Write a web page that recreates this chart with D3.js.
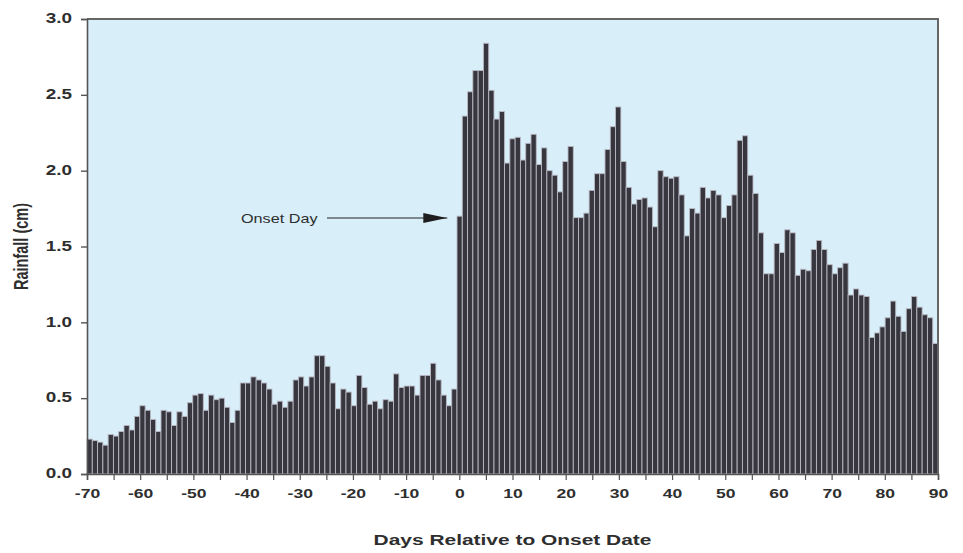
<!DOCTYPE html>
<html>
<head>
<meta charset="utf-8">
<script src="https://cdn.jsdelivr.net/npm/d3@7"></script>
<style>
    body { margin: 0; background: #fff; }
    svg text { font-family: "Liberation Sans", Arial, sans-serif; fill: #2e2e2e; }
</style>
</head>
<body>
<svg id="chart" width="963" height="553"></svg>
<script>
'use strict';

// days -70 .. -1
const preOnset = [
    0.23, 0.22, 0.21, 0.19, 0.26, 0.25, 0.28, 0.32, 0.29, 0.38,
    0.45, 0.42, 0.36, 0.28, 0.42, 0.41, 0.32, 0.41, 0.38, 0.47,
    0.52, 0.53, 0.42, 0.52, 0.49, 0.50, 0.44, 0.34, 0.42, 0.60,
    0.60, 0.64, 0.62, 0.60, 0.56, 0.46, 0.48, 0.44, 0.48, 0.62,
    0.64, 0.58, 0.64, 0.78, 0.78, 0.71, 0.60, 0.43, 0.56, 0.54,
    0.45, 0.65, 0.57, 0.46, 0.48, 0.43, 0.49, 0.48, 0.66, 0.57,
    0.58, 0.58, 0.52, 0.65, 0.65, 0.73, 0.62, 0.52, 0.45, 0.56
];

// days 0 .. 90
const postOnset = [
    1.70, 2.36, 2.52, 2.66, 2.66, 2.84, 2.53, 2.34, 2.39, 2.05,
    2.21, 2.22, 2.07, 2.18, 2.24, 2.04, 2.15, 2.00, 1.97, 1.86,
    2.06, 2.16, 1.69, 1.69, 1.72, 1.87, 1.98, 1.98, 2.14, 2.29,
    2.42, 2.06, 1.89, 1.78, 1.81, 1.82, 1.76, 1.63, 2.00, 1.96,
    1.95, 1.96, 1.84, 1.57, 1.75, 1.72, 1.89, 1.82, 1.87, 1.84,
    1.69, 1.77, 1.84, 2.20, 2.23, 1.97, 1.85, 1.59, 1.32, 1.32,
    1.52, 1.46, 1.61, 1.59, 1.31, 1.35, 1.34, 1.48, 1.54, 1.48,
    1.38, 1.32, 1.36, 1.39, 1.18, 1.22, 1.18, 1.17, 0.90, 0.93,
    0.97, 1.03, 1.14, 1.04, 0.94, 1.09, 1.17, 1.10, 1.05, 1.03,
    0.86
];

const firstDay = -70;
const rainfall = preOnset.concat(postOnset);
const days = rainfall.map((v, i) => firstDay + i);

const xTickValues = [-70, -60, -50, -40, -30, -20, -10, 0, 10, 20, 30, 40, 50, 60, 70, 80, 90];
const yTickValues = [0, 0.5, 1.0, 1.5, 2.0, 2.5, 3.0];
const onsetLabel = 'Onset Day';

const stretch = 1.35; // source picture is stretched sideways

const margin = { top: 19, right: 25, bottom: 79, left: 87 };
const width = 963;
const height = 553;

const svg = d3.select('#chart');

const x = d3.scaleLinear()
    .domain([-70, 90])
    .range([margin.left, width - margin.right]);

const xBand = d3.scaleBand()
    .domain(days)
    .range([margin.left, width - margin.right])
    .padding(0);

const y = d3.scaleLinear()
    .domain([0, 3])
    .range([height - margin.bottom, margin.top]);

// plot background
svg.append('rect')
    .attr('x', x.range()[0])
    .attr('y', y(3))
    .attr('width', x.range()[1] - x.range()[0])
    .attr('height', y(0) - y(3))
    .attr('fill', '#d8eef9');

// bars
svg.append('g')
    .selectAll('rect')
    .data(rainfall)
    .enter()
    .append('rect')
    .attr('x', (d, i) => xBand(days[i]))
    .attr('y', d => y(d))
    .attr('width', xBand.bandwidth())
    .attr('height', d => y(0) - y(d))
    .attr('fill', '#37363f')
    .attr('stroke', '#b9b9c3')
    .attr('stroke-width', 0.9);

// frame top / right
svg.append('path')
    .attr('d', `M${x(-70)},${y(3)}H${x(90)}V${y(0)}`)
    .attr('fill', 'none')
    .attr('stroke', '#666')
    .attr('stroke-width', 2);

// y axis
const yAxis = svg.append('g')
    .attr('transform', `translate(${margin.left},0)`)
    .call(d3.axisLeft(y).tickValues(yTickValues).tickSize(6).tickFormat(d3.format('.1f')));
yAxis.select('.domain').attr('stroke', '#555').attr('stroke-width', 1.6);
yAxis.selectAll('.tick line').attr('stroke', '#555').attr('stroke-width', 1.4);
yAxis.selectAll('.tick text')
    .attr('x', 0)
    .attr('dy', null)
    .attr('dominant-baseline', 'middle')
    .attr('font-size', 14)
    .attr('font-weight', 'bold')
    .attr('transform', `translate(-15,0) scale(${stretch},1)`);

// x axis, ticks every 5 days, labels every 10
const xAxis = svg.append('g')
    .attr('transform', `translate(0,${y(0)})`)
    .call(d3.axisBottom(x).tickValues(d3.range(-70, 91, 5)).tickSize(6)
        .tickFormat(d => (xTickValues.includes(d) ? d : '')));
xAxis.select('.domain').attr('stroke', '#555').attr('stroke-width', 1.6);
xAxis.selectAll('.tick line').attr('stroke', '#555').attr('stroke-width', 1.2);
xAxis.selectAll('.tick text')
    .attr('y', 0)
    .attr('dy', null)
    .attr('font-size', 13)
    .attr('font-weight', 'bold')
    .attr('transform', `translate(0,24) scale(${stretch},1)`);

svg.selectAll('.tick text').attr('fill', '#2e2e2e');

// axis titles
svg.append('text')
    .attr('transform', `translate(${(x(-70) + x(90)) / 2},545) scale(${stretch},1)`)
    .attr('text-anchor', 'middle')
    .attr('font-size', 15.5)
    .attr('font-weight', 'bold')
    .text('Days Relative to Onset Date');

svg.append('text')
    .attr('transform', `translate(28,${(y(0) + y(3)) / 2}) scale(${stretch},1) rotate(-90)`)
    .attr('text-anchor', 'middle')
    .attr('font-size', 14.5)
    .attr('font-weight', 'bold')
    .text('Rainfall (cm)');

// onset annotation
const arrowY = 218;
svg.append('defs')
    .append('marker')
    .attr('id', 'arrow')
    .attr('viewBox', '0 -5 24 10')
    .attr('refX', 24)
    .attr('refY', 0)
    .attr('markerWidth', 24)
    .attr('markerHeight', 10)
    .attr('markerUnits', 'userSpaceOnUse')
    .attr('orient', 'auto')
    .append('path')
    .attr('d', 'M0,-5L24,0L0,5Z')
    .attr('fill', '#1e1e1e');

svg.append('path')
    .attr('d', `M327,${arrowY}H${x(0) - 12}`)
    .attr('stroke', '#222')
    .attr('stroke-width', 1.2)
    .attr('marker-end', 'url(#arrow)');

svg.append('text')
    .attr('transform', `translate(241,${arrowY + 5}) scale(${stretch},1)`)
    .attr('font-size', 12)
    .text(onsetLabel);
</script>
</body>
</html>
